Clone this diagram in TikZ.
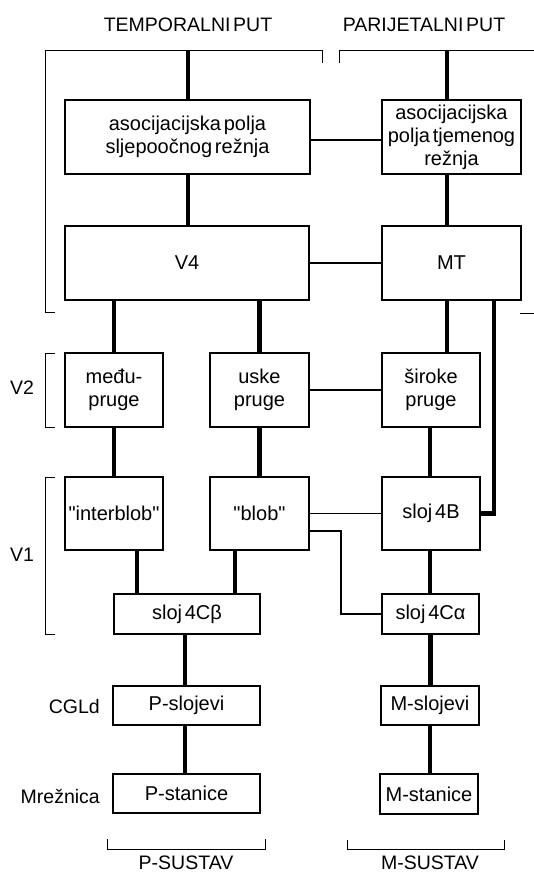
\documentclass[tikz,border=0pt]{standalone}
\usepackage{fontspec}
\setmainfont{Liberation Sans}[WordSpace=0.5]
\usetikzlibrary{calc}
\begin{document}
\begin{tikzpicture}[x=1pt,y=-1pt,
  box/.style={draw,line width=1.4pt,rectangle,inner sep=0pt,align=center,font=\fontsize{20}{23}\selectfont},
  lbl/.style={inner sep=0pt,font=\fontsize{19.5}{22}\selectfont},
  thickc/.style={line width=4.2pt},
  thinc/.style={line width=1.2pt},
  brk/.style={line width=1pt}]
\useasboundingbox (0,0) rectangle (534,875);
% boxes
\node[box,minimum width=245pt,minimum height=74pt] (asl) at (187.5,137) {asocijacijska polja\\sljepoočnog režnja};
\node[box,minimum width=139pt,minimum height=74pt] (asr) at (451.5,137) {asocijacijska\\polja tjemenog\\režnja};
\node[box,minimum width=244pt,minimum height=74pt] (v4) at (187,263) {V4};
\node[box,minimum width=139pt,minimum height=74pt] (mt) at (451.5,263) {MT};
\node[box,minimum width=98pt,minimum height=74pt] (medju) at (114,390) {među-\\pruge};
\node[box,minimum width=99pt,minimum height=74pt] (uske) at (259.5,390) {uske\\pruge};
\node[box,minimum width=98pt,minimum height=74pt] (siroke) at (431,390) {široke\\pruge};
\node[box,minimum width=98pt,minimum height=73pt] (inter) at (114,513.5) {\textquotedbl interblob\textquotedbl};
\node[box,minimum width=99pt,minimum height=73pt] (blob) at (259.5,513.5) {\textquotedbl blob\textquotedbl};
\node[box,minimum width=98pt,minimum height=73pt] (s4b) at (431,513.5) {sloj 4B};
\node[box,minimum width=146pt,minimum height=40pt] (s4cb) at (187,614) {sloj 4Cβ};
\node[box,minimum width=97pt,minimum height=40pt] (s4ca) at (430.5,614) {sloj 4Cα};
\node[box,minimum width=147pt,minimum height=39pt] (psl) at (186.5,705.5) {P-slojevi};
\node[box,minimum width=98pt,minimum height=39pt] (msl) at (430,705.5) {M-slojevi};
\node[box,minimum width=147pt,minimum height=39pt] (pst) at (186.5,793.5) {P-stanice};
\node[box,minimum width=98pt,minimum height=40pt] (mst) at (429,794) {M-stanice};
% labels
\node[lbl] (tp) at (188,25) {TEMPORALNI PUT};
\node[lbl] (pp) at (424,25) {PARIJETALNI PUT};
\node[lbl] (lv2) at (22,388) {V2};
\node[lbl] (lv1) at (22,555) {V1};
\node[lbl,anchor=east] (lcgl) at (100,707) {CGLd};
\node[lbl,anchor=east] (lmr) at (100,796) {Mrežnica};
\node[lbl] (lps) at (186,863) {P-SUSTAV};
\node[lbl] (lms) at (430,863) {M-SUSTAV};
% coordinates
\coordinate (tl) at (188,51);
\coordinate (tr) at (447,51);
% brackets
\draw[brk] (322,63) -- (322,51) -- (45,51) -- (45,312) -- (55,312);
\draw[brk] (339,63) -- (339,51) -- (534,51);
\draw[brk] (520,313) -- (534,313);
\draw[brk] (55,353) -- (45,353) -- (45,427) -- (55,427);
\draw[brk] (55,477) -- (45,477) -- (45,634) -- (55,634);
\draw[brk] (107,839) -- (107,849) -- (265,849) -- (265,839);
\draw[brk] (347,840) -- (347,849) -- (504,849) -- (504,840);
% thick connectors
\draw[thickc] (tl) -- (tl |- asl.north);
\draw[thickc] (tl |- asl.south) -- (tl |- v4.north);
\draw[thickc] (tr) -- (tr |- asr.north);
\draw[thickc] (tr |- asr.south) -- (tr |- mt.north);
\draw[thickc] (medju.north |- v4.south) -- (medju.north);
\draw[thickc] (uske.north |- v4.south) -- (uske.north);
\draw[thickc] (tr |- mt.south) -- (tr |- siroke.north);
\draw[thickc] (medju.south) -- (medju.south |- inter.north);
\draw[thickc] (uske.south) -- (uske.south |- blob.north);
\draw[thickc] ([xshift=-1pt]siroke.south) -- ([xshift=-1pt]siroke.south |- s4b.north);
\draw[thickc] ([xshift=23pt]inter.south) -- ([xshift=23pt]inter.south |- s4cb.north);
\draw[thickc] ([xshift=-24.5pt]blob.south) -- ([xshift=-24.5pt]blob.south |- s4cb.north);
\draw[thickc] ([xshift=-1pt]s4b.south) -- ([xshift=-1pt]s4b.south |- s4ca.north);
\draw[thickc] ([xshift=-2pt]s4cb.south) -- ([xshift=-2pt]s4cb.south |- psl.north);
\draw[thickc] ([xshift=-1.5pt]psl.south) -- ([xshift=-1.5pt]psl.south |- pst.north);
\draw[thickc] (s4ca.south) -- (s4ca.south |- msl.north);
\draw[thickc] (msl.south) -- (msl.south |- mst.north);
\draw[thickc,line join=miter] (494,300) |- (s4b.east);
% thin connectors
\draw[thinc] (asl.east |- 0,140) -- (asr.west |- 0,140);
\draw[thinc] (v4.east) -- (mt.west);
\draw[thinc] (uske.east) -- (siroke.west);
\draw[thinc] (blob.east) -- (s4b.west);
\draw[thinc] (blob.east |- 0,531) -| (341,614) -- (s4ca.west);
\end{tikzpicture}
\end{document}
